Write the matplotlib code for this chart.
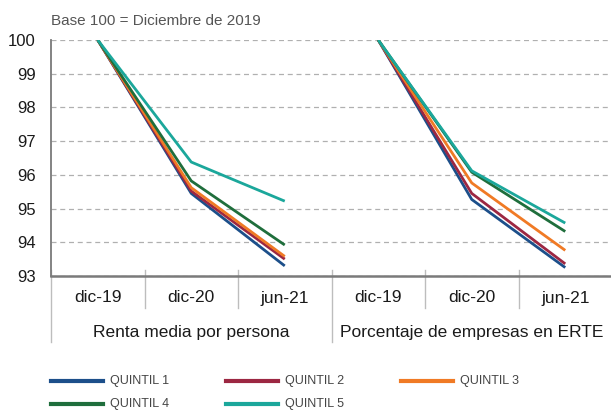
import matplotlib
matplotlib.use("Agg")
import matplotlib.pyplot as plt
import matplotlib.transforms as mtransforms
from matplotlib.lines import Line2D

plt.rcParams['font.family'] = ['Liberation Sans', 'DejaVu Sans']

# datos
periodos = ["dic-19", "dic-20", "jun-21"]
grupos = ["Renta media por persona", "Porcentaje de empresas en ERTE"]
quintiles = ["QUINTIL 1", "QUINTIL 2", "QUINTIL 3", "QUINTIL 4", "QUINTIL 5"]
colores = ["#1c4f8a", "#9c2742", "#f07a25", "#1f6e3c", "#1ba79b"]

renta = [
    [100, 95.45, 93.30],
    [100, 95.52, 93.50],
    [100, 95.62, 93.58],
    [100, 95.82, 93.92],
    [100, 96.38, 95.22],
]
erte = [
    [100, 95.27, 93.25],
    [100, 95.45, 93.36],
    [100, 95.76, 93.76],
    [100, 96.08, 94.32],
    [100, 96.12, 94.57],
]

fig = plt.figure(figsize=(6.11, 4.12), dpi=100)
ax = fig.add_axes([51 / 611, 136 / 412, 561 / 611, 236 / 412])

for i in range(len(quintiles)):
    ax.plot([0, 1, 2], renta[i], color=colores[i], lw=2.0, solid_capstyle='butt')
    ax.plot([3, 4, 5], erte[i], color=colores[i], lw=2.0, solid_capstyle='butt')

ax.set_ylim(93, 100)
ax.set_xlim(-0.5, 5.5)
ax.set_yticks(range(93, 101))
ax.tick_params(axis='y', length=0, pad=11, labelsize=12, labelcolor='#1a1a1a')
ax.set_xticks([])
ax.yaxis.grid(True, color='#b0b0b0', linestyle=(0, (4, 3)), linewidth=0.9)
ax.set_axisbelow(True)

for s in ['top', 'right']:
    ax.spines[s].set_visible(False)
ax.spines['left'].set_color('#7a7a7a')
ax.spines['left'].set_linewidth(1.3)
ax.spines['bottom'].set_color('#7a7a7a')
ax.spines['bottom'].set_linewidth(1.8)

# eje de categorias en dos niveles
trans = mtransforms.blended_transform_factory(ax.transData, ax.transAxes)
for x in [0.5, 1.5, 3.5, 4.5]:
    ax.plot([x, x], [0.025, -0.136], transform=trans, color='#bdbdbd', lw=1.0, clip_on=False)
for x in [-0.5, 2.5]:
    ax.plot([x, x], [0.025, -0.28], transform=trans, color='#bdbdbd', lw=1.0, clip_on=False)

etiquetas = periodos + periodos
for x, lab in enumerate(etiquetas):
    ax.text(x, -22 / 236, lab, transform=trans, ha='center', va='center', fontsize=12.5, color='#1a1a1a')
for g, lab in enumerate(grupos):
    ax.text(1 + 3 * g, -56 / 236, lab, transform=trans, ha='center', va='center', fontsize=12.5, color='#1a1a1a')

fig.text(51 / 611, 1 - 21 / 412, "Base 100 = Diciembre de 2019", ha='left', va='center',
         fontsize=11, color='#555555')

# leyenda
pos = [(51, 381), (226, 381), (401, 381), (51, 404), (226, 404)]
for (px, py), lab, c in zip(pos, quintiles, colores):
    fig.add_artist(Line2D([px / 611, (px + 52) / 611], [1 - py / 412, 1 - py / 412],
                          color=c, lw=3, transform=fig.transFigure))
    fig.text((px + 59) / 611, 1 - py / 412, lab, ha='left', va='center', fontsize=9,
             color='#444444')

fig.savefig("out.png", dpi=100)
